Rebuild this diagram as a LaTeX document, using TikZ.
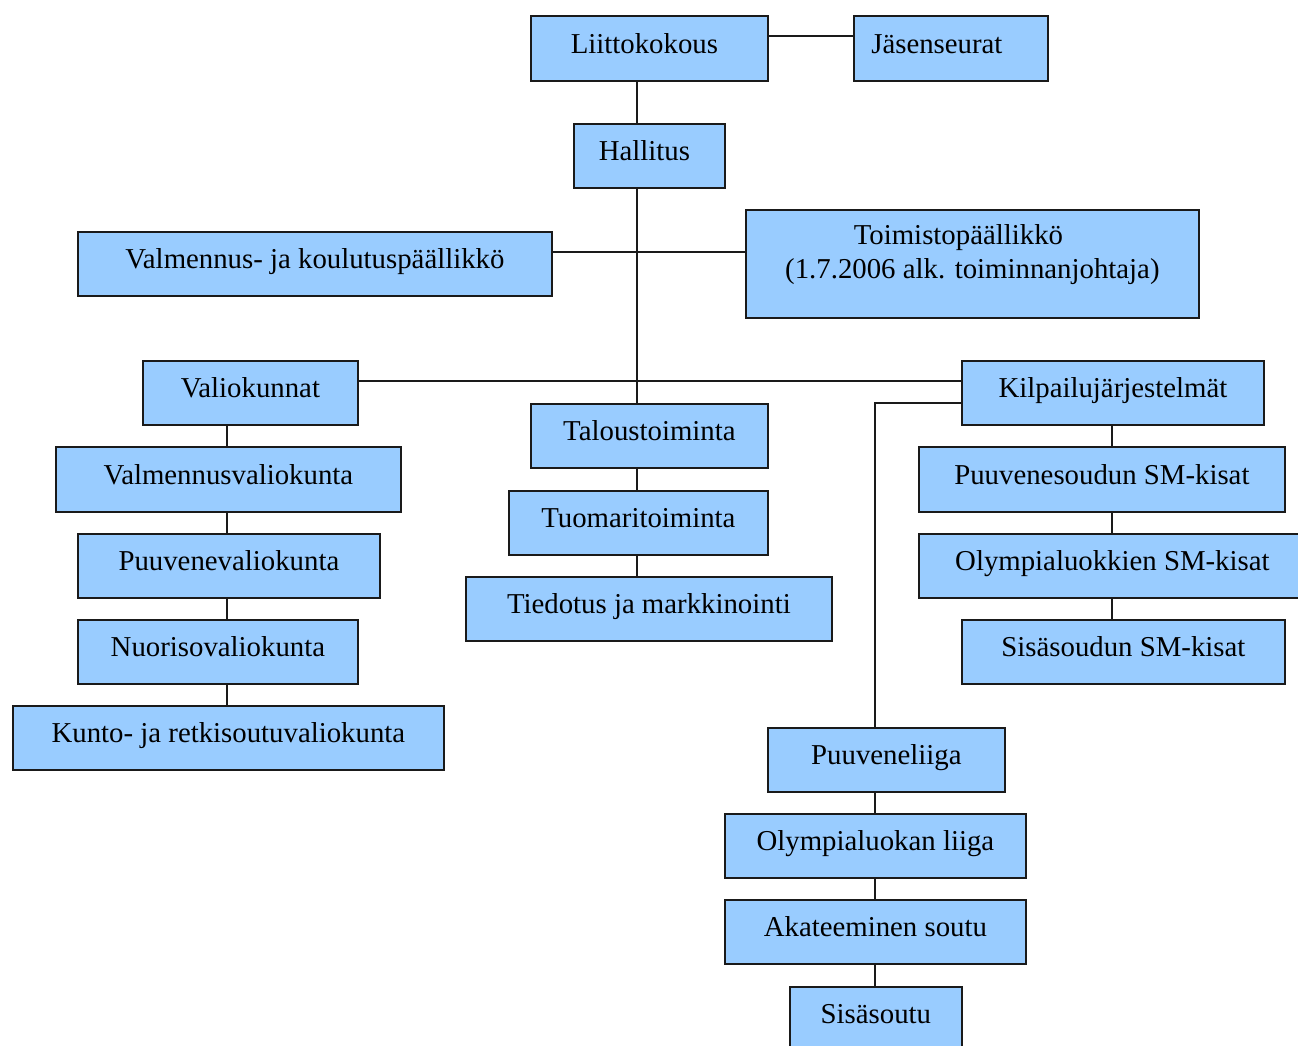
\documentclass[tikz,border=0pt]{standalone}
\usepackage{fontspec}
\setmainfont{Liberation Serif}
\usetikzlibrary{calc}
\definecolor{boxblue}{HTML}{99CCFF}
\definecolor{edge}{HTML}{1A1A1A}
% text of a box: baseline sits a little below the box centre
\newcommand\boxtext[1]{\raisebox{-5pt}[0pt][0pt]{#1}}
\begin{document}
\begin{tikzpicture}[x=1pt,y=-1pt,
  box/.style={draw=edge, fill=boxblue, line width=1.8pt, inner sep=0pt,
              anchor=north west, font=\fontsize{28.8}{34}\selectfont},
  link/.style={draw=edge, line width=1.5pt}]
\useasboundingbox (0,0) rectangle (1298,1046);
\clip (0,0) rectangle (1298,1046);

% connector columns
\coordinate (trunk) at (637,0);
\coordinate (lx) at (227,0);
\coordinate (rx) at (1112,0);
\coordinate (bx) at (875,0);

% top of the organisation
\node[box, minimum width=237, minimum height=65] (liitto) at (530,15) {\boxtext{Liittokokous\hspace*{10pt}}};
\node[box, minimum width=194, minimum height=65] (jasen) at (853,15) {\boxtext{Jäsenseurat\hspace*{28pt}}};
\node[box, minimum width=151, minimum height=64] (hallitus) at (573,123) {\boxtext{Hallitus\hspace*{10pt}}};
\node[box, minimum width=474, minimum height=64] (valmpaal) at (77,231) {\boxtext{Valmennus- ja koulutuspäällikkö}};
\node[box, minimum width=453, minimum height=108] (toimisto) at (745,209)
  {\raisebox{19pt}[0pt][0pt]{\begin{tabular}[t]{@{}c@{}}Toimistopäällikkö\hspace*{28pt}\\(1.7.2006 alk. toiminnanjohtaja)\end{tabular}}};

% middle row
\node[box, minimum width=215, minimum height=64] (valiok) at (142,360) {\boxtext{Valiokunnat}};
\node[box, minimum width=302, minimum height=64] (kilpailu) at (961,360) {\boxtext{Kilpailujärjestelmät}};
\node[box, minimum width=237, minimum height=64] (talous) at (530,403) {\boxtext{Taloustoiminta}};
\node[box, minimum width=259, minimum height=64] (tuomari) at (508,490) {\boxtext{Tuomaritoiminta}};
\node[box, minimum width=366, minimum height=64] (tiedotus) at (465,576) {\boxtext{Tiedotus ja markkinointi}};

% committees
\node[box, minimum width=345, minimum height=65] (valmv) at (55,446) {\boxtext{Valmennusvaliokunta}};
\node[box, minimum width=302, minimum height=64] (puuv) at (77,533) {\boxtext{Puuvenevaliokunta}};
\node[box, minimum width=280, minimum height=64] (nuoriso) at (77,619) {\boxtext{Nuorisovaliokunta}};
\node[box, minimum width=431, minimum height=64] (kunto) at (12,705) {\boxtext{Kunto- ja retkisoutuvaliokunta}};

% championships
\node[box, minimum width=366, minimum height=65] (puusm) at (918,446) {\boxtext{Puuvenesoudun SM-kisat}};
\node[box, minimum width=387, minimum height=64] (olysm) at (918,533) {\boxtext{Olympialuokkien SM-kisat}};
\node[box, minimum width=323, minimum height=64] (sisasm) at (961,619) {\boxtext{Sisäsoudun SM-kisat}};

% leagues
\node[box, minimum width=237, minimum height=64] (puuliiga) at (767,727) {\boxtext{Puuveneliiga}};
\node[box, minimum width=301, minimum height=64] (olyliiga) at (724,813) {\boxtext{Olympialuokan liiga}};
\node[box, minimum width=301, minimum height=64] (akat) at (724,899) {\boxtext{Akateeminen soutu}};
\node[box, minimum width=172, minimum height=64] (sisa) at (789,986) {\boxtext{Sisäsoutu}};

% connectors
\draw[link] ([yshift=-21pt]liitto.north east) -- ([yshift=-21pt]jasen.north west);
\draw[link] (liitto.south -| trunk) -- (hallitus.north -| trunk);
\draw[link] (hallitus.south -| trunk) -- (talous.north -| trunk);
\draw[link] ([yshift=-21pt]valmpaal.north east) -- ([yshift=-21pt]valmpaal.north east -| toimisto.west);
\draw[link] ([yshift=-21pt]valiok.north east) -- ([yshift=-21pt]valiok.north east -| kilpailu.west);
\draw[link] ([yshift=-43pt]kilpailu.north west) -| (puuliiga.north -| bx);
\draw[link] (talous.south -| trunk) -- (tuomari.north -| trunk);
\draw[link] (tuomari.south -| trunk) -- (tiedotus.north -| trunk);
\draw[link] (valiok.south -| lx) -- (valmv.north -| lx);
\draw[link] (valmv.south -| lx) -- (puuv.north -| lx);
\draw[link] (puuv.south -| lx) -- (nuoriso.north -| lx);
\draw[link] (nuoriso.south -| lx) -- (kunto.north -| lx);
\draw[link] (kilpailu.south -| rx) -- (puusm.north -| rx);
\draw[link] (puusm.south -| rx) -- (olysm.north -| rx);
\draw[link] (olysm.south -| rx) -- (sisasm.north -| rx);
\draw[link] (puuliiga.south -| bx) -- (olyliiga.north -| bx);
\draw[link] (olyliiga.south -| bx) -- (akat.north -| bx);
\draw[link] (akat.south -| bx) -- (sisa.north -| bx);
\end{tikzpicture}
\end{document}
